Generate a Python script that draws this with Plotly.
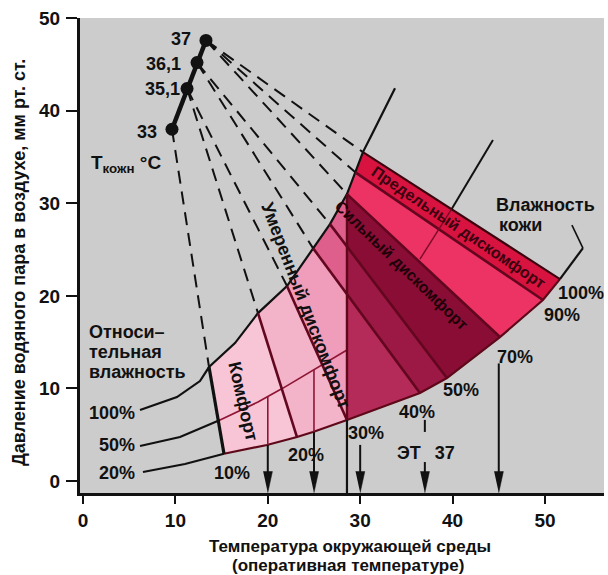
import numpy as np
import plotly.graph_objects as go

# ---------------- values (T in °C, p in mm Hg) ----------------
rh100_t = [6.17, 10.17, 12.66, 13.64, 16.45, 18.94, 22.08, 24.89, 26.73, 28.57, 29.44, 30.30, 31.28, 32.68, 33.77]
rh100_p = [7.67, 9.07, 10.80, 12.31, 14.90, 18.14, 21.06, 25.16, 27.75, 30.99, 33.37, 35.53, 37.47, 40.17, 42.44]
rh50_t = [6.17, 10.50, 14.83, 18.94, 21.65, 25.32, 28.57]
rh50_p = [3.78, 4.75, 6.59, 8.53, 10.04, 12.20, 14.15]
rh20_t = [6.49, 11.04, 15.26, 19.91, 23.16, 24.89, 28.57, 33.23, 36.47, 39.39, 45.13, 49.78, 51.62, 54.11]
rh20_p = [0.97, 1.84, 2.94, 3.89, 4.75, 5.29, 6.59, 8.32, 9.50, 11.12, 15.55, 19.55, 21.81, 25.16]

wet_labels = ["10%", "20%", "30%", "40%", "50%", "70%", "90%", "100%"]
wet_top_t = [13.64, 18.94, 22.08, 24.89, 26.73, 28.57, 29.44, 30.30]
wet_bot_t = [15.26, 23.16, 28.57, 36.47, 39.39, 45.13, 49.78, 51.62]
split_t = 28.57

skin_labels = ["33", "35,1", "36,1", "37"]
skin_t = [9.63, 11.26, 12.34, 13.31]
skin_p = [38.0, 42.4, 45.2, 47.6]
dash_from = [0, 1, 1, 2, 2, 3, 3, 3]

arrow_t = [20, 25, 30, 37, 45]
arrow_from_p = [3.91, 5.29, 3.9, 2.05, 12.7]
et37_seg_p = [6.6, 5.3]

aux_t = [36.47, 39.89, 44.37]
aux_p = [23.97, 29.37, 36.83]
leader_t = [54.11, 52.92]
leader_p = [25.16, 27.65]

x_ticks = [0, 10, 20, 30, 40, 50]
y_ticks = [0, 10, 20, 30, 40, 50]

# ---------------- helpers ----------------
def cv(ct, cp, t):
    return float(np.interp(t, ct, cp))

def seg(ct, cp, t0, t1):
    lo, hi = min(t0, t1), max(t0, t1)
    inner = [(t, p) for t, p in zip(ct, cp) if lo < t < hi]
    if t0 > t1:
        inner = inner[::-1]
    return [(t0, cv(ct, cp, t0))] + inner + [(t1, cv(ct, cp, t1))]

def top(i):
    return (wet_top_t[i], cv(rh100_t, rh100_p, wet_top_t[i]))

def bot(i):
    return (wet_bot_t[i], cv(rh20_t, rh20_p, wet_bot_t[i]))

def on_line(i, t):
    (a, b), (c, d) = top(i), bot(i)
    return (t, b + (d - b) * (t - a) / (c - a))

def band(i, j):
    return ([top(i), bot(i)] + seg(rh20_t, rh20_p, bot(i)[0], bot(j)[0]) +
            [bot(j), top(j)] + seg(rh100_t, rh100_p, top(j)[0], top(i)[0]))

fig = go.Figure()

def add_poly(pts, color):
    fig.add_trace(go.Scatter(x=[p[0] for p in pts], y=[p[1] for p in pts], mode="lines",
                             fill="toself", fillcolor=color, line=dict(width=0, color=color),
                             hoverinfo="skip", showlegend=False))

def add_line(pts, color, width, dash=None):
    fig.add_trace(go.Scatter(x=[p[0] for p in pts], y=[p[1] for p in pts], mode="lines",
                             line=dict(color=color, width=width, dash=dash),
                             hoverinfo="skip", showlegend=False))

# ---------------- coloured zones ----------------
s3 = on_line(3, split_t)
s4 = on_line(4, split_t)
add_poly(band(0, 1), "#f7c5d5")
add_poly(band(1, 2), "#f3b3c8")
add_poly([top(2), bot(2), s3, top(3)] + seg(rh100_t, rh100_p, top(3)[0], top(2)[0]), "#ef9dbb")
add_poly([top(3), s3, top(5)] + seg(rh100_t, rh100_p, top(5)[0], top(3)[0]), "#de5f8c")
add_poly([s3, bot(3)] + seg(rh20_t, rh20_p, bot(3)[0], split_t), "#b42a58")
add_poly([s4, bot(4)] + seg(rh20_t, rh20_p, bot(4)[0], bot(3)[0]) + [s3], "#9c1845")
add_poly([top(5), bot(5)] + seg(rh20_t, rh20_p, bot(5)[0], bot(4)[0]) + [s4], "#8a0d36")
add_poly(band(5, 6), "#ec3363")
add_poly(band(6, 7), "#d9133f")

# ---------------- curves and lines ----------------
BLK = "#111111"
DRK = "#5e0819"
add_line(list(zip(rh100_t, rh100_p)), BLK, 2.2)
add_line(seg(rh50_t, rh50_p, rh50_t[0], 14.83), BLK, 2.2)
add_line(seg(rh50_t, rh50_p, 14.83, rh50_t[-1]), "#8e1535", 1.6)
add_line(seg(rh20_t, rh20_p, rh20_t[0], wet_bot_t[0]), BLK, 2.2)
add_line(seg(rh20_t, rh20_p, wet_bot_t[0], wet_bot_t[-1]), DRK, 2.2)
add_line(seg(rh20_t, rh20_p, wet_bot_t[-1], rh20_t[-1]), BLK, 2.2)
add_line(list(zip(leader_t, leader_p)), BLK, 1.6)

for i in range(len(wet_top_t)):
    if i == 0:
        add_line([top(i), bot(i)], BLK, 3.2)
    elif i == len(wet_top_t) - 1:
        add_line([top(i), bot(i)], "#3e000e", 2.2)
    else:
        add_line([top(i), bot(i)], "#62071f", 2.6)

add_line(list(zip(aux_t[:2], aux_p[:2])), "#7a0a28", 1.4)
add_line(list(zip(aux_t[1:], aux_p[1:])), BLK, 2)

# vertical boundary line
add_line([top(5), bot(2)], DRK, 2.4)
add_line([bot(2), (split_t, -1.3)], BLK, 2.2)

# arrows
y_axis_bottom = -1.28
for t, p0 in zip(arrow_t, arrow_from_p):
    add_line([(t, p0), (t, y_axis_bottom + 1.5)], BLK, 2)
for t in arrow_t[:2]:
    add_line([(t, cv(rh50_t, rh50_p, t)), (t, cv(rh20_t, rh20_p, t))], "#8e1535", 1.6)
add_line([(37, et37_seg_p[0]), (37, et37_seg_p[1])], BLK, 2)
hx, hy = [], []
for t in arrow_t:
    hx += [t - 0.5, t + 0.5, t, None]
    hy += [y_axis_bottom + 2.3, y_axis_bottom + 2.3, y_axis_bottom, None]
fig.add_trace(go.Scatter(x=hx, y=hy, mode="lines", fill="toself", fillcolor=BLK,
                         line=dict(width=0.5, color=BLK), hoverinfo="skip", showlegend=False))

# dashed lines from skin points
for i, k in enumerate(dash_from):
    add_line([(skin_t[k], skin_p[k]), top(i)], BLK, 2, dash="13px,8px")

# skin temperature points
fig.add_trace(go.Scatter(x=skin_t, y=skin_p, mode="lines+markers",
                         line=dict(color=BLK, width=4.5),
                         marker=dict(color=BLK, size=13),
                         hoverinfo="skip", showlegend=False))

# ---------------- texts ----------------
F = "Arial"
def txt(s, x, y, size=18, color="#111111", xanchor="center", yanchor="middle", angle=0,
        xshift=0, yshift=0, xref="x", yref="y"):
    fig.add_annotation(text=s, x=x, y=y, xref=xref, yref=yref, showarrow=False,
                       xanchor=xanchor, yanchor=yanchor, textangle=angle,
                       xshift=xshift, yshift=yshift, borderpad=0,
                       font=dict(family=F, size=size, color=color, weight="bold"))

skin_dx = [-14, -6, -15, -14]
skin_dy = [-3, 0, -1, 1]
for s, t, p, dx, dy in zip(skin_labels, skin_t, skin_p, skin_dx, skin_dy):
    txt(s, t, p, xanchor="right", xshift=dx, yshift=dy)

wet_dx = [8, 9, 19, -3, 14, 15, 19, 21]
wet_dy = [-19, -18, -13, -19, -12, -20, -15, -14]
for i, s in enumerate(wet_labels):
    b = bot(i)
    txt(s, b[0], b[1], xshift=wet_dx[i], yshift=wet_dy[i])

txt("T<sub>кожн</sub> °C", 0.76, 34.2, size=19, xanchor="left")
txt("Относи–", 0.54, 16.09, xanchor="left")
txt("тельная", 0.54, 13.93, xanchor="left")
txt("влажность", 0.54, 11.77, xanchor="left")
txt("100%", 5.74, 7.34, xanchor="right")
txt("50%", 5.74, 3.89, xanchor="right")
txt("20%", 5.74, 0.86, xanchor="right")
txt("ЭТ\u2002 37", 37.12, 3.02)
txt("Влажность", 44.59, 29.8, xanchor="left")
txt("кожи", 44.9, 27.65, xanchor="left")
txt("°C", 54.87, -4.1, size=19)
txt("Комфорт", 17.32, 8.64, angle=77)
txt("Умеренный дискомфорт", 24.13, 18.9, angle=69)
txt("Сильный дискомфорт", 34.52, 23.33, size=16, color="#1e0008", angle=44)
txt("Предельный дискомфорт", 40.69, 27.43, size=16, color="#3a0010", angle=34)

txt("Давление водяного пара в воздухе, мм рт. ст.", -0.1164, 0.484, angle=-90,
    xref="paper", yref="paper")
txt("Температура окружающей среды", 0.515, -0.1116, size=17, xref="paper", yref="paper")
txt("(оперативная температуре)", 0.511, -0.1516, size=17, xref="paper", yref="paper")

fig.update_layout(
    width=608, height=575,
    margin=dict(l=80, r=4, t=18, b=82),
    paper_bgcolor="white", plot_bgcolor="#cccccc",
    showlegend=False,
    xaxis=dict(range=[-0.325, 56.39], tickvals=x_ticks, ticks="outside", ticklen=8,
               tickwidth=1.5, tickcolor=BLK, showline=True, linewidth=2.5, linecolor=BLK,
               showgrid=False, zeroline=False, ticklabelstandoff=0,
               tickfont=dict(family=F, size=19, color=BLK, weight="bold")),
    yaxis=dict(range=[-1.296, 50.02], tickvals=y_ticks, ticks="outside", ticklen=11,
               tickwidth=2, tickcolor=BLK, showline=True, linewidth=3, linecolor=BLK,
               showgrid=False, zeroline=False, ticklabelstandoff=2,
               tickfont=dict(family=F, size=19, color=BLK, weight="bold")),
)

fig.write_html("out.html")
